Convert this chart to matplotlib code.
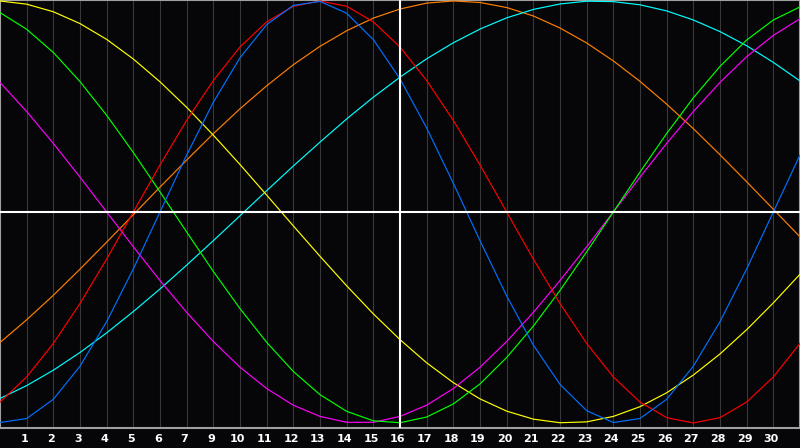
import numpy as np
import matplotlib
matplotlib.use("Agg")
import matplotlib.pyplot as plt

# daily values (day 0 .. 30), scaled to -1..1
days = np.arange(31)
blue = np.array([-998, -979, -888, -731, -520, -270, 0, 270, 520, 731, 888, 979, 998, 942, 817, 631,
                 398, 136, -136, -398, -631, -817, -942, -998, -979, -888, -731, -520, -270, 0, 270]) / 1000
red = np.array([-901, -782, -623, -434, -223, 0, 223, 434, 623, 782, 901, 975, 1000, 975, 901, 782,
                623, 434, 223, 0, -223, -434, -623, -782, -901, -975, -1000, -975, -901, -782, -623]) / 1000
green = np.array([945, 866, 756, 618, 458, 282, 95, -95, -282, -458, -618, -756, -866, -945, -990, -999,
                  -972, -910, -815, -690, -541, -372, -189, 0, 189, 372, 541, 690, 815, 910, 972]) / 1000
yellow = np.array([1000, 985, 949, 893, 818, 725, 617, 496, 364, 225, 80, -66, -210, -350, -483, -605,
                   -715, -809, -886, -944, -982, -999, -995, -969, -923, -857, -773, -673, -558, -431, -295]) / 1000
magenta = np.array([614, 476, 325, 165, 0, -165, -325, -476, -614, -736, -837, -916, -969, -997, -997, -969,
                    -916, -837, -736, -614, -476, -325, -165, 0, 165, 325, 476, 614, 736, 837, 916]) / 1000
orange = np.array([-619, -511, -395, -271, -143, -13, 118, 246, 371, 489, 598, 698, 785, 859, 919, 962,
                   990, 1000, 993, 969, 929, 872, 801, 716, 619, 511, 395, 271, 143, 13, -118]) / 1000
cyan = np.array([-884, -823, -750, -666, -573, -472, -365, -252, -136, -18, 101, 218, 331, 441, 544, 639,
                 726, 802, 867, 920, 960, 986, 999, 997, 982, 953, 910, 855, 788, 709, 621]) / 1000

series = [("#ff8000", orange), ("#00ffff", cyan), ("#ffff00", yellow), ("#ff00ff", magenta),
          ("#00ff00", green), ("#ff0000", red), ("#0070ff", blue)]

tick_pos = list(range(1, 30))
tick_labels = ["1", "2", "3", "4", "5", "6", "7"] + [str(n) for n in range(9, 31)]

bg = "#060608"
fig = plt.figure(figsize=(8, 4.48), dpi=100, facecolor=bg)
ax = fig.add_axes([0, 20 / 448, 1, 428 / 448], facecolor=bg)

for k in tick_pos:
    ax.axvline(k, color="#383838", lw=0.8, zorder=1)

for color, vals in series:
    ax.plot(days, vals, color=color, lw=0.85, zorder=3)

ax.axvline(15, color="white", lw=1.5, zorder=4)
ax.axhline(0, color="white", lw=1.5, zorder=4)

ax.set_xlim(0, 30)
ax.set_ylim(-1.024, 1.0047)
ax.set_yticks([])
ax.set_xticks([p - 0.08 for p in tick_pos])
ax.set_xticklabels(tick_labels, color="white", fontsize=8, fontweight="bold")
ax.tick_params(axis="x", length=0, pad=4)
for s in ax.spines.values():
    s.set_color("#a0a0a0")
    s.set_linewidth(1.5)

fig.savefig("out.png", facecolor=bg)
